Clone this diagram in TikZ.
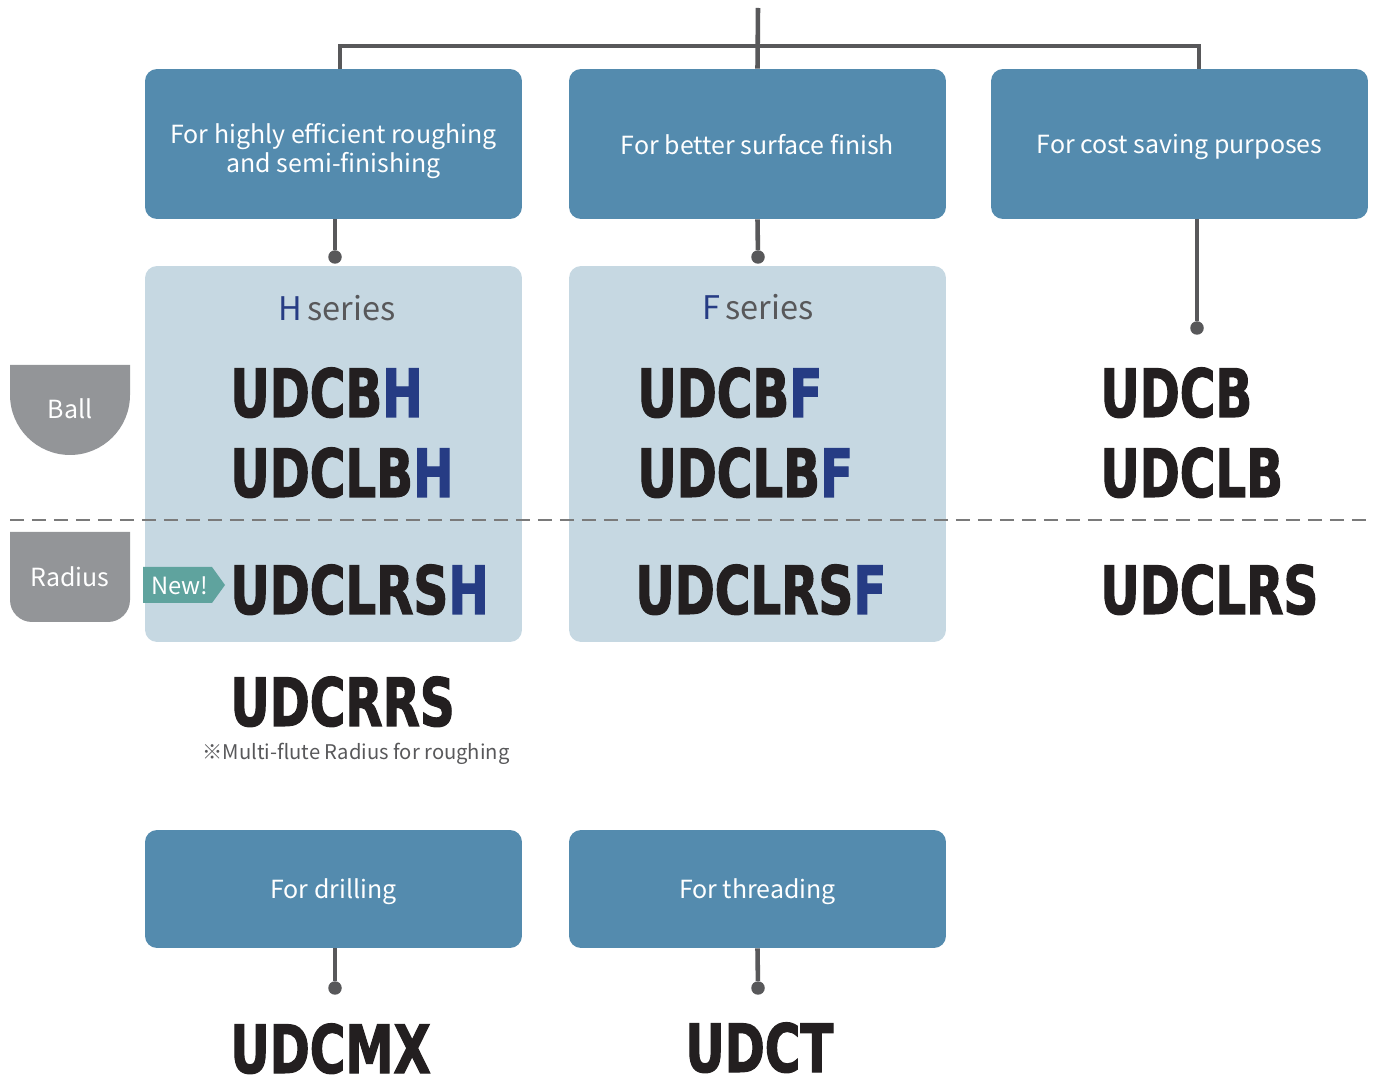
\documentclass[tikz,border=0pt]{standalone}
\usepackage{fontspec}
\setmainfont{Noto Sans CJK JP}
\newfontfamily\prodfont{DejaVu Sans}[FakeStretch=0.725,FakeBold=1.6]
\usetikzlibrary{positioning}

\definecolor{boxblue}{HTML}{548BAE}
\definecolor{panelblue}{HTML}{C6D8E2}
\definecolor{linegray}{HTML}{58585A}
\definecolor{tabgray}{HTML}{939598}
\definecolor{newteal}{HTML}{5FA39E}
\definecolor{serblue}{HTML}{263C84}
\definecolor{ink}{HTML}{231F20}
\definecolor{dashgray}{HTML}{7A7A7A}

\begin{document}
\begin{tikzpicture}[x=0.02cm,y=-0.02cm,
  link/.style={draw=linegray,line width=2.6pt},
  dot/.style={circle,fill=linegray,inner sep=0pt,minimum size=0.27cm},
  purpose/.style={rounded corners=0.24cm,fill=boxblue,text=white,minimum width=7.54cm,
    align=center,text depth=0pt,font=\fontsize{14.2}{16.5}\selectfont},
  panel/.style={rounded corners=0.24cm,fill=panelblue,minimum width=7.54cm,minimum height=7.52cm},
  prod/.style={anchor=base west,inner sep=0pt,text=ink,font=\prodfont\bfseries\fontsize{38}{38}\selectfont},
  series/.style={anchor=base,inner sep=0pt,text=linegray,font=\fontsize{16.5}{17}\selectfont},
  tab/.style={text=white,font=\fontsize{14.2}{15}\selectfont},
  note/.style={text=linegray,font=\fontsize{11.5}{12}\selectfont}]

  \useasboundingbox (0,0) rectangle (1377,1087);

  % purpose boxes
  \node[purpose,minimum height=3cm] (rough) at (333.5,144)
    {\rule{0pt}{16pt}For highly efficient roughing\\and semi-finishing};
  \node[purpose,minimum height=3cm] (finish) at (757.5,144) {For better surface finish};
  \node[purpose,minimum height=3cm] (cost) at (1179.5,144) {For cost saving purposes};
  \node[purpose,minimum height=2.36cm] (drill) at (333.5,889) {For drilling};
  \node[purpose,minimum height=2.36cm] (thread) at (757.5,889) {For threading};

  % series panels
  \node[panel] (hpanel) at (333.5,454) {};
  \node[panel] (fpanel) at (757.5,454) {};
  \node[series] (hser) at (337,321) {\fontsize{18.5}{19}\selectfont\textcolor{serblue}{H}\,series};
  \node[series] (fser) at (758,320) {\fontsize{18.5}{19}\selectfont\textcolor{serblue}{F}\,series};

  % connectors
  \coordinate (top) at (758,8);
  \coordinate (bar) at (758,46);
  \node[dot] (hdot) at (335,257) {};
  \node[dot] (fdot) at (758,257) {};
  \node[dot] (cdot) at (1197,328) {};
  \node[dot] (ddot) at (335,988) {};
  \node[dot] (tdot) at (758,988) {};
  \path[link]
    (top) edge (finish.north)
    ([xshift=0.13cm]rough.north) edge[to path={|- (\tikztotarget) \tikztonodes}] (bar)
    (bar) edge[to path={-| (\tikztotarget) \tikztonodes}] ([xshift=0.39cm]cost.north)
    (rough.south -| hdot) edge (hdot)
    (finish.south) edge (fdot)
    (cost.south -| cdot) edge (cdot)
    (drill.south -| ddot) edge (ddot)
    (thread.south) edge (tdot);

  % ball / radius dividers
  \draw[dashgray,line width=1.2pt,dash pattern=on 0.28cm off 0.16cm] (10,520) -- (1368,520);
  \fill[tabgray] (10,365) -- (130,365) -- (130,395) arc[start angle=0,end angle=-180,radius=1.2cm] -- cycle;
  \node[tab] (ball) at (70,409) {Ball};
  \fill[tabgray] (10,532) -- (130,532) -- (130,600) arc[start angle=0,end angle=-90,radius=0.44cm]
    -- (32,622) arc[start angle=270,end angle=180,radius=0.44cm] -- cycle;
  \node[tab] (radius) at (70,577) {Radius};
  \fill[newteal] (143,567) -- (212,567) -- (225,585) -- (212,603) -- (143,603) -- cycle;
  \node[tab,font=\fontsize{13.5}{14}\selectfont] (new) at (180,586) {New!};

  % products
  \node[prod] (udcbh) at (230,417) {UDCB\textcolor{serblue}{H}};
  \node[prod] (udclbh) at (230,497) {UDCLB\textcolor{serblue}{H}};
  \node[prod] (udclrsh) at (230,614) {UDCLRS\textcolor{serblue}{H}};
  \node[prod] (udcrrs) at (230,726) {UDCRRS};
  \node[note] (multi) at (356,754) {※Multi-flute Radius for roughing};
  \node[prod] (udcbf) at (637,417) {UDCB\textcolor{serblue}{F}};
  \node[prod] (udclbf) at (637,497) {UDCLB\textcolor{serblue}{F}};
  \node[prod] (udclrsf) at (635,614) {UDCLRS\textcolor{serblue}{F}};
  \node[prod] (udcb) at (1100,417) {UDCB};
  \node[prod] (udclb) at (1100,497) {UDCLB};
  \node[prod] (udclrs) at (1100,614) {UDCLRS};
  \node[prod] (udcmx) at (230,1073) {UDCMX};
  \node[prod] (udct) at (685,1072) {UDCT};

\end{tikzpicture}
\end{document}
